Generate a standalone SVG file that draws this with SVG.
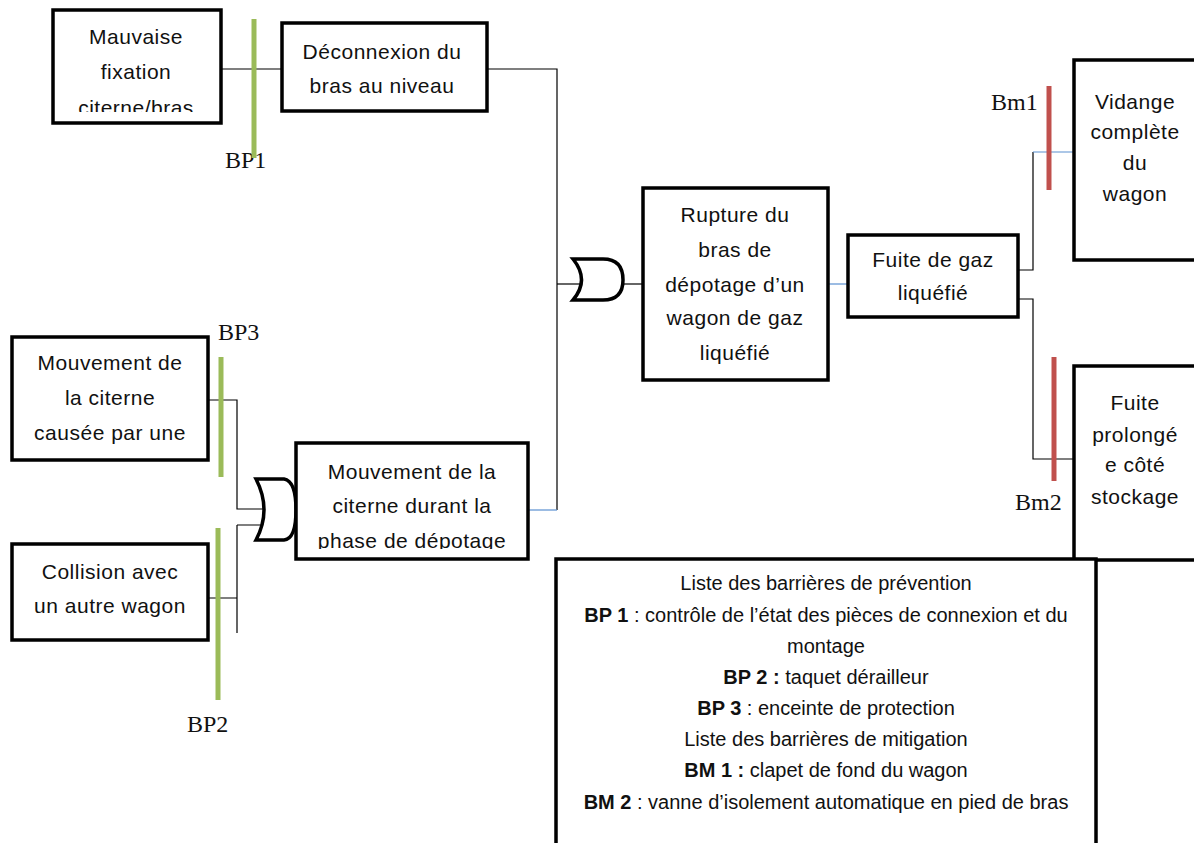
<svg xmlns="http://www.w3.org/2000/svg" width="1194" height="843" viewBox="0 0 1194 843">
<style>
.box{fill:#fff;stroke:#000;stroke-width:3.5}
.t{font-family:"Liberation Sans",Arial,sans-serif;font-size:21px;letter-spacing:0.5px;fill:#111;text-anchor:middle}
.lg{font-family:"Liberation Sans",Arial,sans-serif;font-size:20px;fill:#111;text-anchor:middle}
.b{font-weight:bold}
.lab{font-family:"Liberation Serif","Times New Roman",serif;font-size:24px;fill:#111}
.ln{fill:none;stroke:#000;stroke-width:1.2}
.bl{fill:none;stroke:#5b8fd0;stroke-width:1.2}
.gate{fill:#fff;stroke:#000;stroke-width:3.5}
.bp{stroke:#9bbb59;stroke-width:5}
.bm{stroke:#c0504d;stroke-width:5}
</style>
<defs>
<clipPath id="c1"><rect x="50" y="8" width="175" height="104"/></clipPath>
<clipPath id="c8"><rect x="294" y="440" width="236" height="109"/></clipPath>
</defs>
<rect width="1194" height="843" fill="#fff"/>

<g id="connectors">
<path class="ln" d="M221,69 H282"/>
<path class="ln" d="M487,69 H557 V510"/>
<path class="bl" d="M528,510 H557"/>
<path class="ln" d="M557,284 H581"/>
<path class="ln" d="M623,284 H643"/>
<path class="bl" d="M828,284 H848"/>
<path class="ln" d="M1018,270 H1033 V152"/>
<path class="bl" d="M1033,152 H1074"/>
<path class="ln" d="M1018,299 H1033 V459 H1074"/>
<path class="ln" d="M208,400 H237 V509 H264"/>
<path class="ln" d="M208,598 H237 M237,525 V633 M237,525 H264"/>
</g>

<g id="gate-or-1">
<path class="gate" d="M573,259 H603 Q623,259 623,280 Q623,300 603,300 H573 Q590,280 573,259 Z"/>
</g>
<g id="gate-or-2">
<path class="gate" d="M256,479 H284 Q296,481 296,510 Q296,539 284,540 H256 Q272,510 256,479 Z"/>
</g>

<g id="n-mauvaise-fixation">
<rect class="box" x="53" y="10" width="168" height="113"/>
<g clip-path="url(#c1)">
<text class="t" x="136" y="44">Mauvaise</text>
<text class="t" x="136" y="79">fixation</text>
<text class="t" x="136" y="115">citerne/bras</text>
</g>
</g>

<g id="n-deconnexion">
<rect class="box" x="282" y="23" width="205" height="88"/>
<text class="t" x="382" y="59">Déconnexion du</text>
<text class="t" x="382" y="93">bras au niveau</text>
</g>

<g id="n-rupture">
<rect class="box" x="643" y="188" width="185" height="192"/>
<text class="t" x="735" y="222">Rupture du</text>
<text class="t" x="735" y="257">bras de</text>
<text class="t" x="735" y="292">dépotage d’un</text>
<text class="t" x="735" y="325">wagon de gaz</text>
<text class="t" x="735" y="360">liquéfié</text>
</g>

<g id="n-fuite-gaz">
<rect class="box" x="848" y="235" width="170" height="82"/>
<text class="t" x="933" y="267">Fuite de gaz</text>
<text class="t" x="933" y="300">liquéfié</text>
</g>

<g id="n-vidange">
<rect class="box" x="1074" y="60" width="200" height="200"/>
<text class="t" x="1135" y="109">Vidange</text>
<text class="t" x="1135" y="139">complète</text>
<text class="t" x="1135" y="170">du</text>
<text class="t" x="1135" y="201">wagon</text>
</g>

<g id="n-fuite-prolongee">
<rect class="box" x="1074" y="366" width="200" height="194"/>
<text class="t" x="1135" y="410">Fuite</text>
<text class="t" x="1135" y="442">prolongé</text>
<text class="t" x="1135" y="472">e côté</text>
<text class="t" x="1135" y="504">stockage</text>
</g>

<g id="n-mouvement-cause">
<rect class="box" x="12" y="337" width="196" height="123"/>
<text class="t" x="110" y="370">Mouvement de</text>
<text class="t" x="110" y="405">la citerne</text>
<text class="t" x="110" y="440">causée par une</text>
</g>

<g id="n-collision">
<rect class="box" x="12" y="544" width="196" height="96"/>
<text class="t" x="110" y="579">Collision avec</text>
<text class="t" x="110" y="613">un autre wagon</text>
</g>

<g id="n-mouvement-depotage">
<rect class="box" x="296" y="443" width="232" height="116"/>
<g clip-path="url(#c8)">
<text class="t" x="412" y="479">Mouvement de la</text>
<text class="t" x="412" y="513">citerne durant la</text>
<text class="t" x="412" y="548">phase de dépotage</text>
</g>
</g>

<g id="n-legende">
<rect class="box" x="556" y="559" width="540" height="300"/>
<text class="lg" x="826" y="590">Liste des barrières de prévention</text>
<text class="lg" x="826" y="622"><tspan class="b">BP 1</tspan> : contrôle de l’état des pièces de connexion et du</text>
<text class="lg" x="826" y="653">montage</text>
<text class="lg" x="826" y="684"><tspan class="b">BP 2 :</tspan> taquet dérailleur</text>
<text class="lg" x="826" y="715"><tspan class="b">BP 3</tspan> : enceinte de protection</text>
<text class="lg" x="826" y="746">Liste des barrières de mitigation</text>
<text class="lg" x="826" y="777"><tspan class="b">BM 1 :</tspan> clapet de fond du wagon</text>
<text class="lg" x="826" y="809"><tspan class="b">BM 2</tspan> : vanne d’isolement automatique en pied de bras</text>
</g>

<g id="barriers">
<text class="lab" x="225" y="168">BP1</text>
<text class="lab" x="218" y="340">BP3</text>
<text class="lab" x="187" y="732">BP2</text>
<text class="lab" x="991" y="110">Bm1</text>
<text class="lab" x="1015" y="510">Bm2</text>
<line class="bp" x1="254" y1="19" x2="254" y2="158"/>
<line class="bp" x1="221" y1="357" x2="221" y2="477"/>
<line class="bp" x1="218" y1="528" x2="218" y2="700"/>
<line class="bm" x1="1049" y1="86" x2="1049" y2="190"/>
<line class="bm" x1="1054" y1="357" x2="1054" y2="481"/>
</g>
</svg>
